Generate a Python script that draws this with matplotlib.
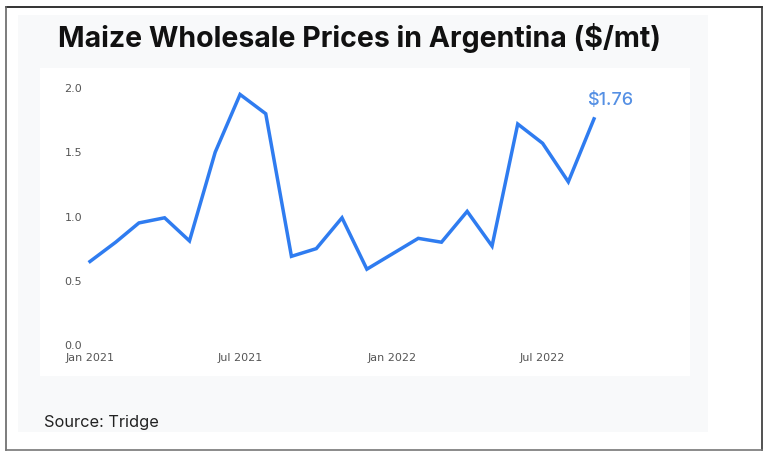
import matplotlib
matplotlib.use("Agg")
import matplotlib.pyplot as plt
import matplotlib.dates as mdates
from matplotlib.patches import Rectangle
from matplotlib.lines import Line2D
import pandas as pd

W, H = 763, 457

months = ["2021-01", "2021-02", "2021-03", "2021-04", "2021-05", "2021-06", "2021-07",
          "2021-08", "2021-09", "2021-10", "2021-11", "2021-12", "2022-01", "2022-02",
          "2022-03", "2022-04", "2022-05", "2022-06", "2022-07", "2022-08", "2022-09"]
prices = [0.65, 0.80, 0.95, 0.99, 0.81, 1.50, 1.95, 1.80, 0.69, 0.75, 0.99, 0.59,
          0.71, 0.83, 0.80, 1.04, 0.77, 1.72, 1.57, 1.27, 1.76]
y_ticks = [0.0, 0.5, 1.0, 1.5, 2.0]

title = "Maize Wholesale Prices in Argentina ($/mt)"
source = "Source: Tridge"
last_label = "$1.76"

line_color = "#2f7cf0"
label_color = "#5590e4"


def fx(x):
    return x / W


def fy(y):
    return 1 - y / H


def box(x0, y0, x1, y1):
    # pixel box (top-left origin) -> figure fraction rect
    return [fx(x0), fy(y1), (x1 - x0) / W, (y1 - y0) / H]


fig = plt.figure(figsize=(W / 100, H / 100), dpi=100)
fig.patch.set_facecolor("white")

# grey card and white plot area
for (x0, y0, x1, y1), fc in [((18, 15, 708, 432), "#f8f9fa"),
                             ((40, 68, 690, 376), "white")]:
    r = box(x0, y0, x1, y1)
    fig.add_artist(Rectangle((r[0], r[1]), r[2], r[3], transform=fig.transFigure,
                             facecolor=fc, edgecolor="none", zorder=-5))

# outer frame
for xs, ys, c in [((6, 762), (7, 7), "#111111"),
                  ((6, 6), (7, 450), "#666666"),
                  ((761.5, 761.5), (7, 450), "#333333"),
                  ((6, 762), (449.5, 449.5), "#777777")]:
    fig.add_artist(Line2D([fx(v) for v in xs], [fy(v) for v in ys],
                          transform=fig.transFigure, color=c, linewidth=1.2))

fig.text(360 / W, fy(38), title, ha="center", va="center",
         fontsize=20.5, fontweight="bold", family="Inter", color="#111111")
fig.text(44 / W, fy(422), source, ha="left", va="center",
         fontsize=11.8, family="Inter", color="#222222")

ax = fig.add_axes(box(85, 80, 640, 350))
ax.set_zorder(2)
ax.patch.set_alpha(0)
dates = pd.to_datetime(months)
ax.plot(dates, prices, color=line_color, linewidth=2.5, solid_joinstyle="miter")

ax.annotate(last_label, (dates[-1], prices[-1]), xytext=(11.5, 13),
            textcoords="offset points", ha="center", va="center",
            fontsize=13, fontweight="medium", family="Inter", color=label_color)

# pixel mapping: Jan 2021 -> x=90, Sep 2022 -> x=594 ; 0 -> y=345, 2.0 -> y=88
d0 = mdates.date2num(dates[0])
d1 = mdates.date2num(dates[-1])
ppd = (594 - 90) / (d1 - d0)
ax.set_xlim(d0 - (90 - 85) / ppd, d1 + (640 - 594) / ppd)
ppv = (344 - 88) / 2.0
ax.set_ylim(-(349 - 344) / ppv, (344 - 80) / ppv)

ax.set_yticks(y_ticks)
ax.set_yticklabels([f"{v:.1f}" for v in y_ticks])
ax.xaxis.set_major_locator(mdates.MonthLocator(bymonth=[1, 7]))
ax.xaxis.set_major_formatter(mdates.DateFormatter("%b %Y"))
ax.tick_params(axis="both", length=0, labelsize=8, labelcolor="#555555")
ax.tick_params(axis="y", pad=2)
ax.tick_params(axis="x", pad=2)
for s in ax.spines.values():
    s.set_visible(False)

fig.savefig("out.png", dpi=100)
